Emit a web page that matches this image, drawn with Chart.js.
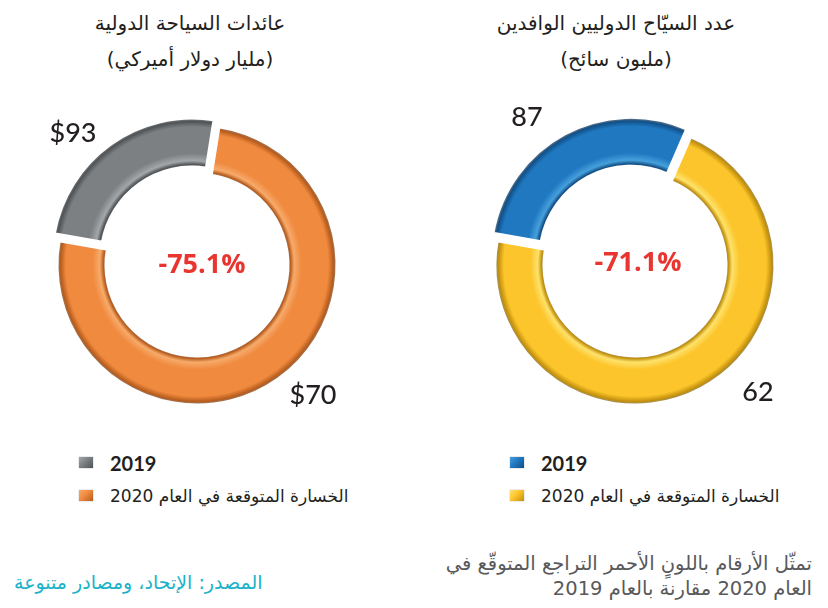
<!DOCTYPE html>
<html lang="ar">
<head>
<meta charset="utf-8">
<script src="https://cdn.jsdelivr.net/npm/chart.js@4/dist/chart.umd.min.js"></script>
<style>
  html,body{margin:0;padding:0;background:#fff;}
  body{width:828px;height:608px;position:relative;overflow:hidden;font-family:"DejaVu Sans",sans-serif;}
  .abs{position:absolute;}
  .title{width:380px;text-align:center;font-size:20px;color:#231f20;line-height:36px;direction:rtl;}
  canvas{position:absolute;}
  .legend{position:absolute;font-size:17px;color:#231f20;}
  .legend .row{display:flex;align-items:center;height:33px;}
  .legend .box{width:14px;height:11px;margin-right:17px;flex:none;}
  .legend .txt{direction:rtl;unicode-bidi:plaintext;white-space:nowrap;}
  .legend .num{font-family:Lato,"DejaVu Sans",sans-serif;font-weight:bold;font-size:20px;}
  .note{right:16px;top:551px;width:420px;text-align:right;direction:rtl;font-size:19.5px;line-height:25px;color:#58595b;white-space:nowrap;}
  .source{left:14px;top:571px;direction:rtl;font-size:19px;color:#1ab2c8;white-space:nowrap;}
</style>
</head>
<body>
<div class="abs title" id="t0" style="left:0px;top:5px;"></div>
<div class="abs title" id="t1" style="left:426px;top:5px;"></div>

<canvas id="c0" width="380" height="340" style="left:7px;top:95px;"></canvas>
<canvas id="c1" width="380" height="340" style="left:445px;top:95px;"></canvas>

<div class="legend" id="l0" style="left:79px;top:446px;"></div>
<div class="legend" id="l1" style="left:510px;top:446px;"></div>

<div class="abs note" id="note"></div>
<div class="abs source" id="source"></div>

<script>
// ---------------- data ----------------
const seriesNames = ['2019', 'الخسارة المتوقعة في العام 2020'];

// International tourism revenues (billion USD)
const revenue2019 = 93;
const revenueLoss2020 = 70;
const revenueRing = [23, 70];          // ring split: remaining share / expected 2020 loss
const revenueChange = '-75.1%';

// International tourist arrivals (million tourists)
const arrivals2019 = 87;
const arrivalsLoss2020 = 62;
const arrivalsRing = [25, 62];         // ring split: remaining share / expected 2020 loss
const arrivalsChange = '-71.1%';

const chartTitles = [
  ['عائدات السياحة الدولية', '(مليار دولار أميركي)'],
  ['عدد السيّاح الدوليين الوافدين', '(مليون سائح)']
];
const noteLines = ['تمثّل الأرقام باللونٍ الأحمر التراجع المتوقّع في', 'العام 2020 مقارنة بالعام 2019'];
const sourceText = 'المصدر: الإتحاد، ومصادر متنوعة';

// ---------------- styles ----------------
const revenueColors = [
  {base:'#7c8083', dark:'#4f5356', light:'#a3a7a9'},
  {base:'#f08a3f', dark:'#b65c1c', light:'#f7aa6a'}
];
const arrivalsColors = [
  {base:'#1f78c0', dark:'#124f86', light:'#46a0dc'},
  {base:'#fcc52b', dark:'#c2900c', light:'#fee26a'}
];
const OUTER = 140, CUT = 0.65;

function ringFill(cols) {
  return (c) => {
    const col = cols[c.dataIndex];
    const chart = c.chart, a = chart.chartArea;
    if (!a) return col.base;
    const cx = (a.left + a.right) / 2, cy = (a.top + a.bottom) / 2;
    const g = chart.ctx.createRadialGradient(cx, cy, OUTER * CUT, cx, cy, OUTER);
    g.addColorStop(0, '#9a9a9a');
    g.addColorStop(0.05, col.dark);
    g.addColorStop(0.13, col.light);
    g.addColorStop(0.28, col.base);
    g.addColorStop(0.82, col.base);
    g.addColorStop(0.93, col.dark);
    g.addColorStop(1, '#8f8f8f');
    return g;
  };
}

const ringLabels = {
  id: 'ringLabels',
  afterDraw(chart, args, o) {
    const {ctx} = chart, a = chart.chartArea;
    const cx = (a.left + a.right) / 2, cy = (a.top + a.bottom) / 2;
    ctx.save();
    ctx.textAlign = 'center';
    ctx.textBaseline = 'middle';
    ctx.font = '500 27px Lato, "DejaVu Sans", sans-serif';
    ctx.fillStyle = '#231f20';
    o.values.forEach((t, i) => ctx.fillText(t, cx + o.anchors[i][0], cy + o.anchors[i][1]));
    ctx.font = 'bold 27px "Open Sans", sans-serif';
    ctx.fillStyle = '#e93530';
    ctx.fillText(o.center, cx + o.centerShift[0], cy + o.centerShift[1]);
    ctx.restore();
  }
};

function makeRing(id, ring, cols, values, anchors, center, centerShift) {
  return new Chart(document.getElementById(id), {
    type: 'doughnut',
    data: {
      labels: seriesNames,
      datasets: [{
        data: ring,
        backgroundColor: ringFill(cols),
        borderColor: '#ffffff',
        borderWidth: 3,
        offset: [34, 0],
        hoverOffset: 0
      }]
    },
    options: {
      responsive: false,
      animation: false,
      events: [],
      rotation: -80,
      cutout: (CUT * 100) + '%',
      radius: OUTER,
      plugins: {
        legend: {display: false},
        tooltip: {enabled: false},
        ringLabels: {values, anchors, center, centerShift}
      }
    },
    plugins: [ringLabels]
  });
}

makeRing('c0', revenueRing, revenueColors,
  ['$' + revenue2019, '$' + revenueLoss2020], [[-124, -132], [116, 130]], revenueChange, [5, 0]);
makeRing('c1', arrivalsRing, arrivalsColors,
  [String(arrivals2019), String(arrivalsLoss2020)], [[-108, -148], [123, 127]], arrivalsChange, [3, -2]);

// ---------------- text ----------------
chartTitles.forEach((lines, i) => {
  document.getElementById('t' + i).innerHTML = lines.map(l => '<div>' + l + '</div>').join('');
});
[revenueColors, arrivalsColors].forEach((cols, i) => {
  const el = document.getElementById('l' + i);
  seriesNames.forEach((name, j) => {
    const c = cols[j];
    const row = document.createElement('div');
    row.className = 'row';
    const box = document.createElement('div');
    box.className = 'box';
    box.style.background = 'linear-gradient(135deg,' + c.light + ' 0%,' + c.base + ' 45%,' + c.dark + ' 100%)';
    box.style.boxShadow = '0 0 1px #888';
    const txt = document.createElement('div');
    txt.className = 'txt' + (j === 0 ? ' num' : '');
    txt.textContent = name;
    row.appendChild(box); row.appendChild(txt);
    el.appendChild(row);
  });
});
document.getElementById('note').innerHTML = noteLines.map(l => '<div>' + l + '</div>').join('');
document.getElementById('source').textContent = sourceText;
</script>
</body>
</html>
